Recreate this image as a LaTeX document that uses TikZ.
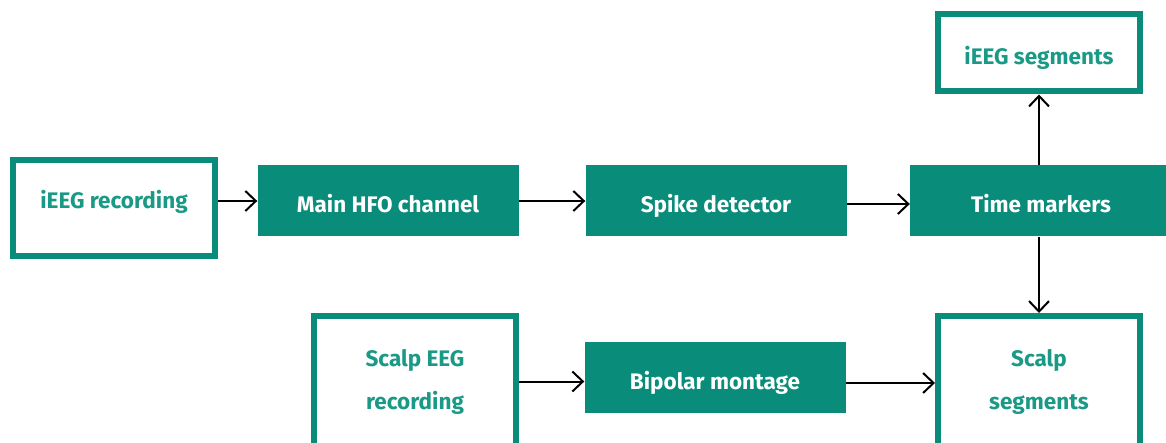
\documentclass[tikz,border=0pt]{standalone}
\usepackage{fontspec}
\setmainfont{Fira Sans}
\usetikzlibrary{arrows.meta}
\definecolor{teal1}{HTML}{0A8C7B}
\definecolor{tealtxt}{HTML}{1A9A86}
\begin{document}
\begin{tikzpicture}[x=1pt,y=-1pt,
  filled/.style={fill=teal1,draw=none,text=white,minimum width=261pt,minimum height=71pt,inner sep=0pt,
    font=\fontsize{22.5}{27}\selectfont\bfseries,text height=23pt,text depth=0pt},
  outl/.style={draw=teal1,fill=white,line width=6pt,text=tealtxt,minimum width=202pt,inner sep=0pt,align=center,
    font=\fontsize{22.5}{43}\selectfont\bfseries},
  arr/.style={draw=black,line width=2pt,-{Straight Barb[length=10.5pt,width=20pt,line width=2pt]}}]
\useasboundingbox (0,0) rectangle (1166,443);
\clip (0,0) rectangle (1166,443);
\fill[white] (0,0) rectangle (1166,443);
\node[outl,minimum height=96pt,text height=1pt,text depth=0pt] (ir) at (114,208) {iEEG recording};
\node[filled] (hfo) at (388,201) {Main HFO channel};
\node[filled] (sd) at (716,201) {Spike detector};
\node[filled,minimum width=262pt] (tm) at (1041,201) {Time markers};
\node[outl,minimum height=77pt,text height=23pt,text depth=0pt] (is) at (1039,53) {iEEG segments};
\node[outl,minimum height=131pt] (ser) at (415,381.5) {Scalp EEG\\recording};
\node[filled,text height=25pt] (bp) at (715,377) {Bipolar montage};
\node[outl,minimum height=131pt] (ss) at (1039,381.5) {Scalp\\segments};
\draw[arr] (ir.east |- hfo.west) -- (hfo.west);
\draw[arr] (hfo.east) -- (sd.west);
\draw[arr] ([yshift=-3pt]sd.east) -- ([yshift=-3pt]tm.west);
\draw[arr] (tm.north -| is.south) -- (is.south);
\draw[arr] (tm.south -| ss.north) -- (ss.north);
\draw[arr] (ser.east) -- (ser.east -| bp.west);
\draw[arr] ([yshift=-6pt]bp.east) -- ([yshift=-6pt]bp.east -| ss.west);
\end{tikzpicture}
\end{document}
